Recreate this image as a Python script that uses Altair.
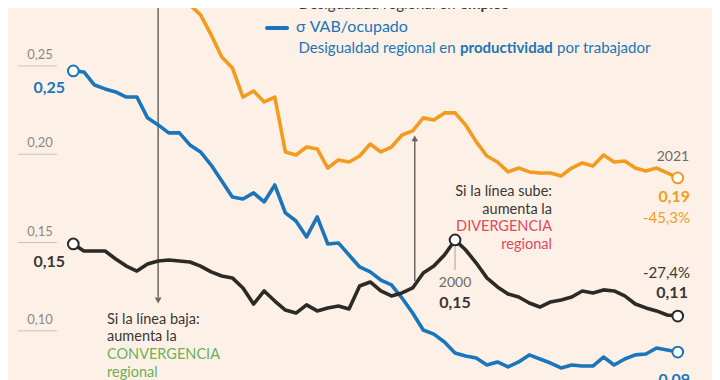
import altair as alt
import pandas as pd

years = list(range(1964, 2022))

# orange: desigualdad regional en empleo (the first years lie above the visible area)
sigma_empleo = [0.3412, 0.3395, 0.3372, 0.3327, 0.3281, 0.3247, 0.3185, 0.3128, 0.3055, 0.2987,
                0.2908, 0.2845, 0.2789, 0.2676, 0.2551, 0.2489, 0.2324, 0.2358, 0.2296, 0.2324,
                0.2013, 0.1996, 0.2041, 0.2030, 0.1922, 0.1968, 0.1956, 0.1990, 0.2058, 0.2013,
                0.2041, 0.2109, 0.2132, 0.2206, 0.2194, 0.2234, 0.2234, 0.2166, 0.2070, 0.1990,
                0.1956, 0.1900, 0.1922, 0.1900, 0.1894, 0.1894, 0.1877, 0.1922, 0.1951, 0.1934,
                0.1996, 0.1956, 0.1962, 0.1922, 0.1905, 0.1922, 0.1894, 0.1866]

# blue: sigma VAB/ocupado
sigma_vab_ocupado = [0.2472, 0.2466, 0.2392, 0.2370, 0.2353, 0.2324, 0.2324, 0.2206, 0.2166, 0.2121,
                     0.2121, 0.2053, 0.2013, 0.1939, 0.1849, 0.1758, 0.1747, 0.1781, 0.1730, 0.1826,
                     0.1668, 0.1622, 0.1532, 0.1645, 0.1492, 0.1498, 0.1430, 0.1362, 0.1334, 0.1288,
                     0.1260, 0.1186, 0.1101, 0.1005, 0.0982, 0.0937, 0.0875, 0.0858, 0.0846, 0.0807,
                     0.0824, 0.0796, 0.0824, 0.0864, 0.0841, 0.0818, 0.0790, 0.0807, 0.0801, 0.0801,
                     0.0852, 0.0807, 0.0841, 0.0864, 0.0869, 0.0903, 0.0892, 0.0880]

# black: sigma VAB per capita
sigma_vab_pc = [0.1492, 0.1452, 0.1452, 0.1452, 0.1407, 0.1367, 0.1339, 0.1379, 0.1396, 0.1401,
                0.1396, 0.1390, 0.1367, 0.1334, 0.1311, 0.1300, 0.1243, 0.1152, 0.1226, 0.1169,
                0.1118, 0.1101, 0.1147, 0.1113, 0.1130, 0.1141, 0.1124, 0.1254, 0.1277, 0.1226,
                0.1198, 0.1215, 0.1243, 0.1328, 0.1367, 0.1430, 0.1515, 0.1458, 0.1384, 0.1300,
                0.1249, 0.1209, 0.1192, 0.1158, 0.1135, 0.1164, 0.1175, 0.1192, 0.1226, 0.1215,
                0.1232, 0.1226, 0.1198, 0.1152, 0.1130, 0.1113, 0.1090, 0.1084]

series_names = ["empleo", "VAB/ocupado", "VAB pc"]
series_colors = ["#F39B1E", "#1B75BB", "#2B2A27"]

y_ticks = [0.25, 0.20, 0.15, 0.10]
y_tick_labels = ["0,25", "0,20", "0,15", "0,10"]

BG = "#FDF1E7"
FONT = "Lato"

xs = alt.Scale(domain=[1957.842, 2024.23], nice=False, zero=False)
ys = alt.Scale(domain=[0.0722, 0.2828], nice=False, zero=False)


def X(f):
    return alt.X(f, type="quantitative", scale=xs, axis=None)


def Y(f):
    return alt.Y(f, type="quantitative", scale=ys, axis=None)


rows = []
for name, vals in zip(series_names, [sigma_empleo, sigma_vab_ocupado, sigma_vab_pc]):
    for yr, v in zip(years, vals):
        rows.append({"year": yr, "value": v, "serie": name})
lines_df = pd.DataFrame(rows)

color_scale = alt.Scale(domain=series_names, range=series_colors)

# y "axis": short gridlines with labels above
grid_df = pd.DataFrame({"x1": [1958.79] * 4, "x2": [1962.46] * 4, "value": y_ticks,
                        "xl": [1960.86] * 4, "label": y_tick_labels})
grid = alt.Chart(grid_df).mark_rule(color="#C9C1B8", strokeWidth=1).encode(
    x=X("x1"), x2="x2", y=Y("value"))
grid_labels = alt.Chart(grid_df).mark_text(
    font=FONT, fontSize=13, color="#8C8782", align="center", baseline="middle", dy=-11
).encode(x=X("xl"), y=Y("value"), text="label")

lines = alt.Chart(lines_df).mark_line(strokeWidth=3.6, clip=True, strokeJoin="round").encode(
    x=X("year"), y=Y("value"),
    color=alt.Color("serie:N", scale=color_scale, legend=None),
    detail="serie:N")

# marked points (start, 2000 peak, end)
marked = lines_df[(lines_df.year == 1964) | (lines_df.year == 2021) |
                  ((lines_df.year == 2000) & (lines_df.serie == "VAB pc"))]
points = alt.Chart(marked).mark_point(
    filled=True, fill="white", size=115, strokeWidth=2, opacity=1, clip=True
).encode(x=X("year"), y=Y("value"),
         stroke=alt.Stroke("serie:N", scale=color_scale, legend=None))

# arrows
arrow_df = pd.DataFrame({"year": [1972.0, 1996.2], "v1": [0.2828, 0.1282], "v2": [0.1190, 0.2075]})
arrow_lines = alt.Chart(arrow_df).mark_rule(color="#6B6662", strokeWidth=1.5).encode(
    x=X("year"), y=Y("v1"), y2="v2")
head_df = pd.DataFrame({"year": [1972.0, 1996.2], "value": [0.1172, 0.2090],
                        "shape": ["triangle-down", "triangle-up"]})
arrow_heads = alt.Chart(head_df).mark_point(filled=True, color="#6B6662", size=45, opacity=1).encode(
    x=X("year"), y=Y("value"), shape=alt.Shape("shape:N", scale=None))

tick2000_df = pd.DataFrame({"year": [2000.0], "v1": [0.1478], "v2": [0.1345]})
tick2000 = alt.Chart(tick2000_df).mark_rule(color="#A8A29C", strokeWidth=1).encode(
    x=X("year"), y=Y("v1"), y2="v2")

# legend entry (blue)
leg_df = pd.DataFrame({"x1": [1982.27], "x2": [1984.16], "value": [0.2715]})
legend_line = alt.Chart(leg_df).mark_rule(color="#1B75BB", strokeWidth=4, strokeCap="round").encode(
    x=X("x1"), x2="x2", y=Y("value"))


def texts(records, align, weight="normal", size=14.5):
    df = pd.DataFrame(records, columns=["year", "value", "text", "color"])
    return alt.Chart(df).mark_text(
        font=FONT, fontSize=size, fontWeight=weight, align=align, baseline="middle"
    ).encode(x=X("year"), y=Y("value"), text="text:N",
             color=alt.Color("color:N", scale=None))


DARK = "#3A3735"
GREY = "#6E6A66"
GREEN = "#6DB055"
RED = "#E0485F"
ORANGE = "#F39B1E"
BLUE = "#1B75BB"

legend_texts = texts([
    (2000.05, 0.2851, "Desigualdad regional en", DARK),
    (2000.05, 0.2602, "Desigualdad regional en", BLUE),
], "right", "normal", 15)
legend_after = texts([
    (2009.62, 0.2602, "por trabajador", BLUE),
], "left", "normal", 15)
legend_bold = texts([
    (2000.47, 0.2851, "empleo", DARK),
    (2000.47, 0.2602, "productividad", BLUE),
], "left", "bold", 15)
legend_title = texts([
    (1985.0, 0.2721, "σ VAB/ocupado", BLUE),
], "left", "normal", 16)

left_note = texts([
    (1967.18, 0.1062, "Si la línea baja:", DARK),
    (1967.18, 0.0965, "aumenta la", DARK),
    (1967.18, 0.0864, "CONVERGENCIA", GREEN),
    (1967.18, 0.0762, "regional", GREEN),
], "left", "normal", 14.5)
right_note = texts([
    (2009.14, 0.1786, "Si la línea sube:", DARK),
    (2009.14, 0.1685, "aumenta la", DARK),
    (2009.14, 0.1588, "DIVERGENCIA", RED),
    (2009.14, 0.1486, "regional", RED),
], "right", "normal", 14.5)

bold_right = texts([
    (1963.22, 0.2375, "0,25", BLUE),
    (1963.22, 0.1390, "0,15", DARK),
    (2022.16, 0.1758, "0,19", ORANGE),
    (2021.96, 0.1215, "0,11", DARK),
    (2022.16, 0.0722, "0,09", BLUE),
], "right", "bold", 16)
pct_right = texts([
    (2022.16, 0.1639, "-45,3%", ORANGE),
    (2022.16, 0.1328, "-27,4%", DARK),
], "right", "normal", 15)
year_labels = texts([
    (2000.0, 0.1271, "2000", GREY),
    (2020.54, 0.1985, "2021", GREY),
], "center", "normal", 14)
bold_center = texts([
    (2000.0, 0.1158, "0,15", DARK),
], "center", "bold", 16)

chart = alt.layer(
    grid, grid_labels, arrow_lines, arrow_heads, tick2000, lines, points, legend_line,
    legend_texts, legend_after, legend_bold, legend_title, left_note, right_note,
    bold_right, pct_right, year_labels, bold_center
).properties(
    width=704, height=372,
    autosize=alt.AutoSizeParams(type="none"),
    padding=0,
    background=BG,
).configure_view(stroke=None)

chart.save("out.html", embed_options={"renderer": "svg", "actions": False})
